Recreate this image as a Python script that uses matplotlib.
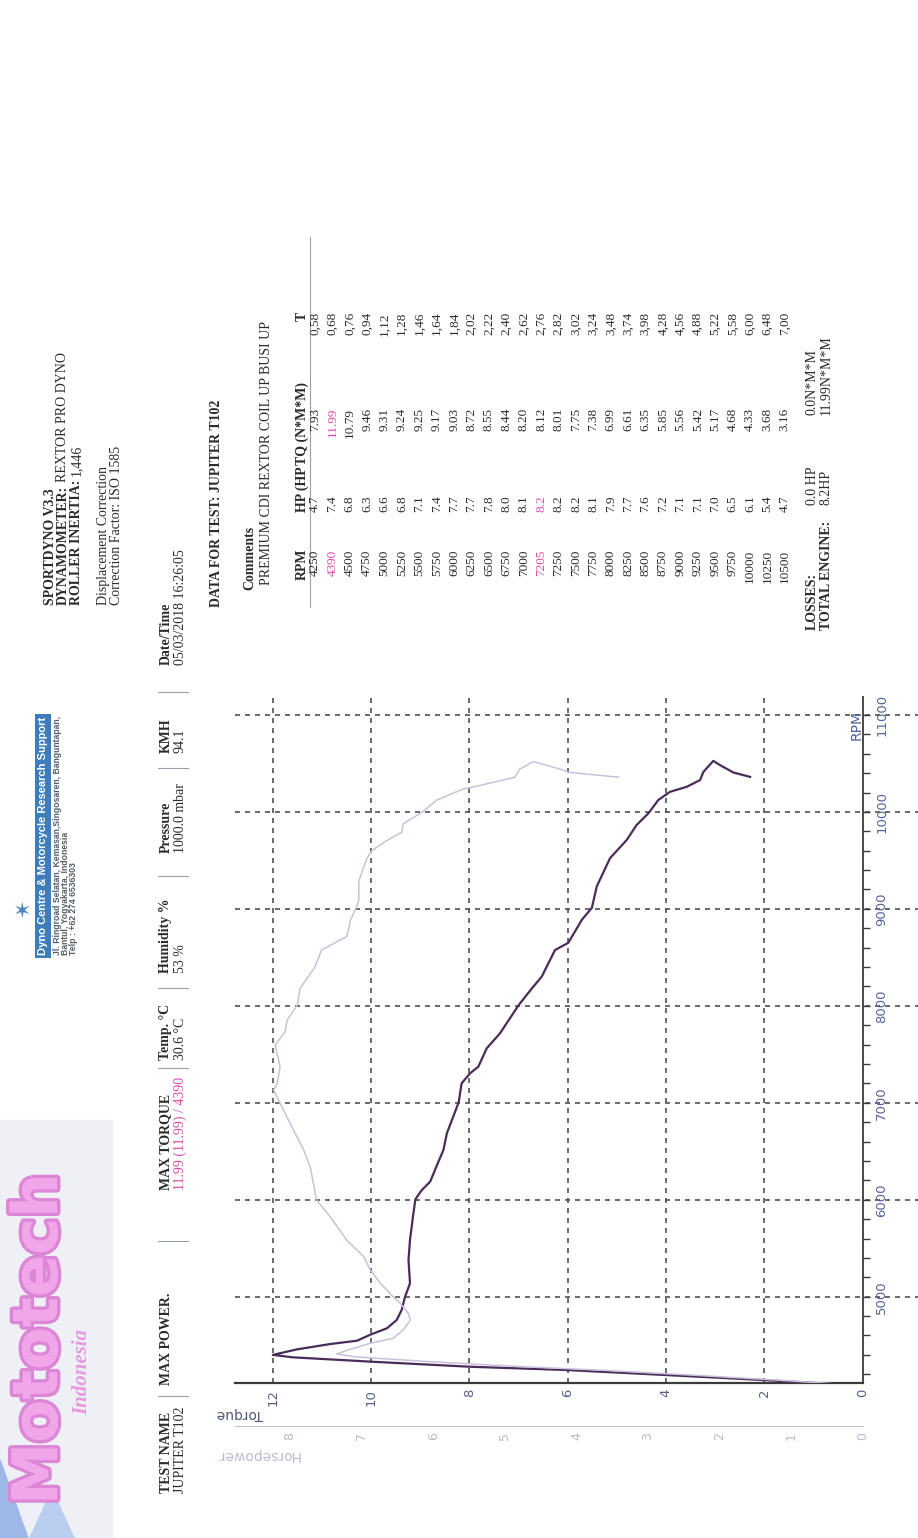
import numpy as np
import matplotlib
matplotlib.use("Agg")
import matplotlib.pyplot as plt
from matplotlib.ticker import MultipleLocator
from matplotlib.patches import Rectangle, Polygon
import matplotlib.patheffects as pe

W, H = 918, 1538

# dyno curve (rpm, torque N*m)
tq_rpm = [4100, 4141, 4192, 4244, 4278, 4330, 4375, 4400, 4457, 4512, 4546, 4612, 4674, 4760,
          4863, 5000, 5138, 5378, 5585, 5825, 6005, 6100, 6186, 6358, 6513, 6685, 7004, 7200,
          7303, 7372, 7561, 7716, 8007, 8180, 8301, 8575, 8650, 8890, 9010, 9232, 9523, 9711,
          9865, 9985, 10122, 10207, 10259, 10328, 10413, 10526, 10482, 10406, 10361]
tq_val = [0.6, 2.03, 4.0, 6.02, 8.0, 10.0, 11.6, 12.0, 11.51, 10.83, 10.29, 10.0, 9.68, 9.48,
          9.38, 9.31, 9.21, 9.24, 9.21, 9.15, 9.10, 8.97, 8.80, 8.66, 8.53, 8.46, 8.22, 8.16,
          7.99, 7.82, 7.65, 7.38, 7.0, 6.73, 6.53, 6.26, 5.99, 5.71, 5.51, 5.41, 5.14, 4.80,
          4.60, 4.36, 4.16, 3.92, 3.58, 3.31, 3.24, 3.04, 2.90, 2.63, 2.29]

# horsepower curve (rpm, HP)
hp_rpm = [4100, 4140, 4190, 4240, 4280, 4330, 4380, 4410, 4457, 4520, 4571, 4657, 4760, 4829,
          4932, 5000, 5138, 5275, 5412, 5585, 5825, 5997, 6341, 6513, 6685, 6891, 7131, 7200,
          7372, 7596, 7733, 7854, 8009, 8181, 8404, 8576, 8714, 8800, 8880, 9023, 9092, 9290,
          9515, 9600, 9704, 9790, 9876, 9996, 10122, 10237, 10254, 10290, 10357, 10443, 10519,
          10443, 10410, 10393, 10358]
hp_val = [0.35, 1.2, 2.35, 3.6, 4.8, 6.05, 7.1, 7.35, 7.16, 6.88, 6.56, 6.42, 6.32, 6.35,
          6.46, 6.56, 6.74, 6.88, 6.97, 7.21, 7.44, 7.63, 7.72, 7.81, 7.93, 8.07, 8.23, 8.18,
          8.14, 8.21, 8.07, 8.04, 7.90, 7.86, 7.65, 7.56, 7.21, 7.18, 7.16, 7.07, 7.04, 7.04,
          6.93, 6.86, 6.65, 6.44, 6.42, 6.16, 5.95, 5.58, 5.46, 5.25, 4.86, 4.79, 4.60,
          4.23, 4.11, 3.90, 3.41]

# printed table
t_rpm = ["4250", "4390", "4500", "4750", "5000", "5250", "5500", "5750", "6000", "6250", "6500",
         "6750", "7000", "7205", "7250", "7500", "7750", "8000", "8250", "8500", "8750", "9000",
         "9250", "9500", "9750", "10000", "10250", "10500"]
t_hp = ["4.7", "7.4", "6.8", "6.3", "6.6", "6.8", "7.1", "7.4", "7.7", "7.7", "7.8", "8.0", "8.1",
        "8.2", "8.2", "8.2", "8.1", "7.9", "7.7", "7.6", "7.2", "7.1", "7.1", "7.0", "6.5", "6.1",
        "5.4", "4.7"]
t_tq = ["7.93", "11.99", "10.79", "9.46", "9.31", "9.24", "9.25", "9.17", "9.03", "8.72", "8.55",
        "8.44", "8.20", "8.12", "8.01", "7.75", "7.38", "6.99", "6.61", "6.35", "5.85", "5.56",
        "5.42", "5.17", "4.68", "4.33", "3.68", "3.16"]
t_t = ["0,58", "0,68", "0,76", "0,94", "1,12", "1,28", "1,46", "1,64", "1,84", "2,02", "2,22",
       "2,40", "2,62", "2,76", "2,82", "3,02", "3,24", "3,48", "3,74", "3,98", "4,28", "4,56",
       "4,88", "5,22", "5,58", "6,00", "6,48", "7,00"]
pink_rows = [1, 13]

tq_ticks = [0, 2, 4, 6, 8, 10, 12]
hp_ticks = [0, 1, 2, 3, 4, 5, 6, 7, 8]
rpm_ticks = [5000, 6000, 7000, 8000, 9000, 10000, 11000]

header_labels = ["TEST NAME", "MAX POWER.", "MAX TORQUE", "Temp. °C", "Humidity %",
                 "Pressure", "KMH", "Date/Time"]
header_values = ["JUPITER T102", "", "11.99 (11.99) / 4390", "30.6 °C", "53 %",
                 "1000.0 mbar", "94.1", "05/03/2018 16:26:05"]

SERIF = "Liberation Serif"
INK = "#2b2b2b"
PINK = "#e04aae"

fig = plt.figure(figsize=(W / 100, H / 100), dpi=100)
fig.patch.set_facecolor("white")


def fx(x):
    return x / W


def fy(y):
    return 1 - y / H


def vtext(x, y, s, ha="left", **kw):
    # text reading bottom to top, x = centre line, y = start (or end for ha='right')
    kw.setdefault("family", SERIF)
    kw.setdefault("color", INK)
    kw.setdefault("fontsize", 10)
    return fig.text(fx(x), fy(y), s, rotation=90, rotation_mode="anchor",
                    ha=ha, va="center", **kw)


renderer = fig.canvas.get_renderer()


def tlen(t):
    return t.get_window_extent(renderer).height


# left banner
fig.patches.append(Rectangle((0, fy(1538)), fx(112), fy(1120) - fy(1538),
                             transform=fig.transFigure, color="#eef0f6", zorder=0))
fig.patches.append(Polygon([(0, fy(1538)), (0, fy(1460)), (fx(28), fy(1538))],
                           closed=True, transform=fig.transFigure, color="#9db8e6", zorder=0))
fig.patches.append(Polygon([(fx(30), fy(1538)), (fx(52), fy(1490)), (fx(74), fy(1538))],
                           closed=True, transform=fig.transFigure, color="#b9cdee", zorder=0))

logo = fig.text(fx(40), fy(1505), "Mototech", rotation=90, rotation_mode="anchor",
                ha="left", va="center", fontsize=45, fontweight="bold",
                family="DejaVu Sans", color="#f2a6ea")
logo.set_path_effects([pe.withStroke(linewidth=5, foreground="#dc86d6"),
                       pe.Normal()])
vtext(82, 1415, "Indonesia", fontsize=15, style="italic", fontweight="bold",
      color="#e59ae0")

# dyno centre box and address
fig.text(fx(22), fy(912), "\u2736", ha="center", va="center", fontsize=16,
         color="#4a86c4", family="DejaVu Sans")
vtext(43, 955, "Dyno Centre & Motorcycle Research Support", family="Liberation Sans",
      fontweight="bold", fontsize=8, color="white",
      bbox=dict(boxstyle="square,pad=0.25", fc="#3f7db8", ec="none"))
addr = ["Jl. Ringroad Selatan, Kemasan,Singosaren, Banguntapan,",
        "Bantul, Yogyakarta, Indonesia",
        "Telp : +62 274 6536303"]
for i, line in enumerate(addr):
    vtext(58 + i * 8, 955, line, family="Liberation Sans", fontweight="bold",
          fontsize=6.2, color="#555b66")

# software / dyno block
vtext(50, 605, "SPORTDYNO V3.3", fontweight="bold")
t = vtext(63, 605, "DYNAMOMETER:", fontweight="bold")
vtext(63, 605 - tlen(t) - 4, "REXTOR PRO DYNO")
t = vtext(76, 605, "ROLLER INERTIA:", fontweight="bold")
vtext(76, 605 - tlen(t) - 4, "1,446")
vtext(104, 605, "Displacement Correction")
vtext(117, 605, "Correction Factor: ISO 1585")

# header row, separators halfway between neighbouring fields
head_y = [1493, 1385, 1190, 1060, 973, 853, 753, 665]
field_end = []
for i, (lab, val) in enumerate(zip(header_labels, header_values)):
    a = vtext(166, head_y[i], lab, fontweight="bold")
    b = vtext(180, head_y[i], val, color=PINK if i == 2 else INK)
    field_end.append(head_y[i] - max(tlen(a), tlen(b) if val else 0))
for i in range(1, len(head_y)):
    sep = (field_end[i - 1] + head_y[i]) / 2
    fig.add_artist(plt.Line2D([fx(158), fx(188)], [fy(sep), fy(sep)],
                              color="#9aa0aa", lw=0.8))

# data block
vtext(217, 607, "DATA FOR TEST: JUPITER T102", fontweight="bold")
vtext(250, 590, "Comments", fontweight="bold")
vtext(266, 585, "PREMIUM CDI REXTOR COIL UP BUSI UP")

col_end = {"rpm": 550, "hp": 495, "tq": 408, "t": 312}
row0, dx = 315, 17.4
vtext(302, 580, "RPM", fontweight="bold")
t = vtext(302, 512, "HP (HP", fontweight="bold")
vtext(302, 512 - tlen(t) - 1, "TQ (N*M*M)", fontweight="bold")
vtext(302, col_end["t"], "T", ha="right", fontweight="bold")
fig.add_artist(plt.Line2D([fx(310), fx(310)], [fy(237), fy(607)], color="#9aa0aa", lw=0.8))
for i in range(len(t_rpm)):
    xr = row0 + i * dx
    c = PINK if i in pink_rows else INK
    vtext(xr, col_end["rpm"], t_rpm[i], ha="right", color=c, fontsize=9.5)
    vtext(xr, col_end["hp"], t_hp[i], ha="right", color=c if i == 13 else INK, fontsize=9.5)
    vtext(xr, col_end["tq"], t_tq[i], ha="right", color=c if i == 1 else INK, fontsize=9.5)
    vtext(xr, col_end["t"], t_t[i], ha="right", fontsize=9.5)

vtext(812, 630, "LOSSES:", fontweight="bold")
vtext(826, 630, "TOTAL ENGINE:", fontweight="bold")
vtext(812, 505, "0.0 HP")
vtext(826, 505, "8.2HP")
vtext(812, 415, "0.0N*M*M")
vtext(826, 415, "11.99N*M*M")

# chart
x0, x1, ytop, ybot = 235, 862.7, 697, 1383.3
ax = fig.add_axes([fx(x0), fy(ybot), fx(x1) - fx(x0), fy(ytop) - fy(ybot)])
ax.set_facecolor("none")
ax.set_xlim(12.77, 0)
ax.set_ylim(4107, 11185)
grid_kw = dict(color="#505050", lw=1.2, ls=(0, (3, 3)))
for v in tq_ticks[1:]:
    ax.axvline(v, **grid_kw, zorder=1)
for r in rpm_ticks:
    ax.axhline(r, xmin=0, xmax=1.09, clip_on=False, **grid_kw, zorder=1)

ax2 = ax.twiny()
ax2.set_xlim(8.77, 0)
ax2.plot(hp_val, hp_rpm, color="#c9c1dc", lw=1.1, zorder=3)
ax.plot(tq_val, tq_rpm, color="#4a2c58", lw=1.6, zorder=4)

for s in ["top", "left"]:
    ax.spines[s].set_visible(False)
ax.spines["bottom"].set_color("#3a3a3a")
ax.spines["bottom"].set_linewidth(1.6)
ax.spines["right"].set_color("#3a3a3a")
ax.spines["right"].set_linewidth(1.3)

ax.set_xticks(tq_ticks)
ax.set_xticklabels([str(v) for v in tq_ticks], rotation=90, va="top", ha="center",
                   color="#55608a", fontsize=9.5)
ax.tick_params(axis="x", length=0, pad=4)
ax.yaxis.tick_right()
ax.set_yticks(rpm_ticks)
ax.set_yticklabels([str(v) for v in rpm_ticks], rotation=90, va="center", ha="left",
                   color="#56649e", fontsize=9.5)
ax.yaxis.set_minor_locator(MultipleLocator(200))
ax.tick_params(axis="y", which="both", direction="out", length=5, width=1,
               color="#3a3a3a", pad=4)

for s in ["top", "left", "right"]:
    ax2.spines[s].set_visible(False)
ax2.xaxis.set_ticks_position("bottom")
ax2.spines["bottom"].set_position(("outward", 31))
ax2.spines["bottom"].set_color("#c4c6cc")
ax2.set_xticks(hp_ticks)
ax2.set_xticklabels([str(v) for v in hp_ticks], rotation=90, va="top", ha="center",
                    color="#b4bccd", fontsize=9)
ax2.tick_params(axis="x", length=0, pad=4)

fig.text(fx(240), fy(1414), "Torque", rotation=180, ha="center", va="center",
         family="DejaVu Sans", fontsize=10, color="#4e5878")
fig.text(fx(258), fy(1455), "Horsepower", rotation=180, ha="center", va="center",
         family="DejaVu Sans", fontsize=10, color="#b7bed0")
fig.text(fx(857), fy(725), "RPM", rotation=90, ha="center", va="center",
         family="DejaVu Sans", fontsize=10, color="#4d5f9f")

fig.savefig("out.png", dpi=100, facecolor="white")
